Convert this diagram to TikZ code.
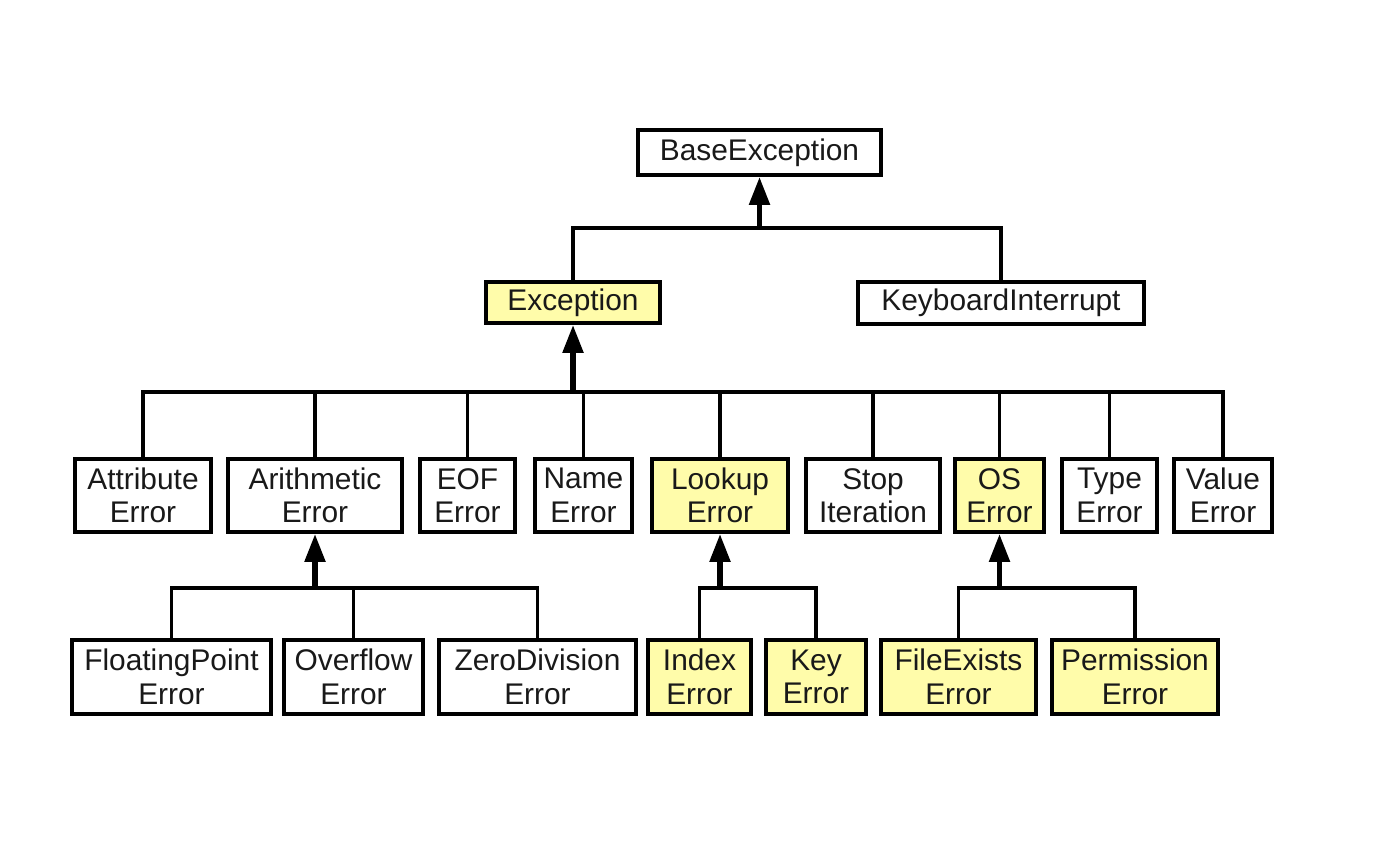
\documentclass[tikz,border=0pt]{standalone}
\usepackage{fontspec}
\setmainfont{Liberation Sans}
\usetikzlibrary{arrows.meta}
\definecolor{hl}{RGB}{255,252,170}
\begin{document}
\begin{tikzpicture}[x=0.02cm,y=-0.02cm,
  box/.style={draw, line width=2.2pt, align=center, inner sep=0pt, text=black!90,
    font=\fontsize{17}{19}\selectfont},
  hbox/.style={box, fill=hl},
  conn/.style={line width=1.9pt},
  arr/.style={line width=3pt, -{Triangle[width=0.4cm,length=0.56cm]}}]
\useasboundingbox (0,0) rectangle (1386,862);
\coordinate (b1) at (0,228);
\coordinate (b2) at (0,392);
\coordinate (b3) at (0,588);
% top
\node[box, minimum width=243*0.02cm, minimum height=45*0.02cm] (base) at (759.5,152.5) {BaseException};
\node[hbox, minimum width=174*0.02cm, minimum height=41*0.02cm] (exc) at (573,302.5) {Exception};
\node[box, minimum width=286*0.02cm, minimum height=42*0.02cm] (ki) at (1001,303) {KeyboardInterrupt};
% row 2
\foreach \n/\cx/\w/\t/\s in {
  attr/143/136/{Attribute\\Error}/box,
  arith/315/174/{Arithmetic\\Error}/box,
  eof/467.5/95/{EOF\\Error}/box,
  name/583.5/97/{Name\\Error}/box,
  look/720/136/{Lookup\\Error}/hbox,
  stop/873/134/{Stop\\Iteration}/box,
  os/999.5/89/{OS\\Error}/hbox,
  type/1109.5/95/{Type\\Error}/box,
  val/1223/98/{Value\\Error}/box}
  \node[\s, minimum width=\w*0.02cm, minimum height=73*0.02cm] (\n) at (\cx,495.5) {\t};
% row 3
\foreach \n/\cx/\w/\t/\s in {
  fp/171.5/199/{FloatingPoint\\Error}/box,
  ov/353.5/139/{Overflow\\Error}/box,
  zd/537.5/197/{ZeroDivision\\Error}/box,
  idx/699.5/103/{Index\\Error}/hbox,
  key/816/100/{Key\\Error}/hbox,
  fe/958.5/155/{FileExists\\Error}/hbox,
  perm/1135/166/{Permission\\Error}/hbox}
  \node[\s, minimum width=\w*0.02cm, minimum height=74*0.02cm] (\n) at (\cx,677) {\t};
% level 1
\draw[conn] (exc.north) -- (exc.north|-b1) -- (ki.north|-b1) -- (ki.north);
\draw[arr] (base.south|-b1) -- (base.south);
% level 2
\draw[conn] (attr.north) -- (attr.north|-b2) -- (val.north|-b2) -- (val.north);
\foreach \n in {arith,eof,name,look,stop,os,type}
  \draw[conn] (\n.north) -- (\n.north|-b2);
\draw[arr] (exc.south|-b2) -- (exc.south);
% level 3
\draw[conn] (fp.north) -- (fp.north|-b3) -- (zd.north|-b3) -- (zd.north);
\draw[conn] (ov.north) -- (ov.north|-b3);
\draw[arr] (arith.south|-b3) -- (arith.south);
\draw[conn] (idx.north) -- (idx.north|-b3) -- (key.north|-b3) -- (key.north);
\draw[arr] (look.south|-b3) -- (look.south);
\draw[conn] (fe.north) -- (fe.north|-b3) -- (perm.north|-b3) -- (perm.north);
\draw[arr] (os.south|-b3) -- (os.south);
\end{tikzpicture}
\end{document}
